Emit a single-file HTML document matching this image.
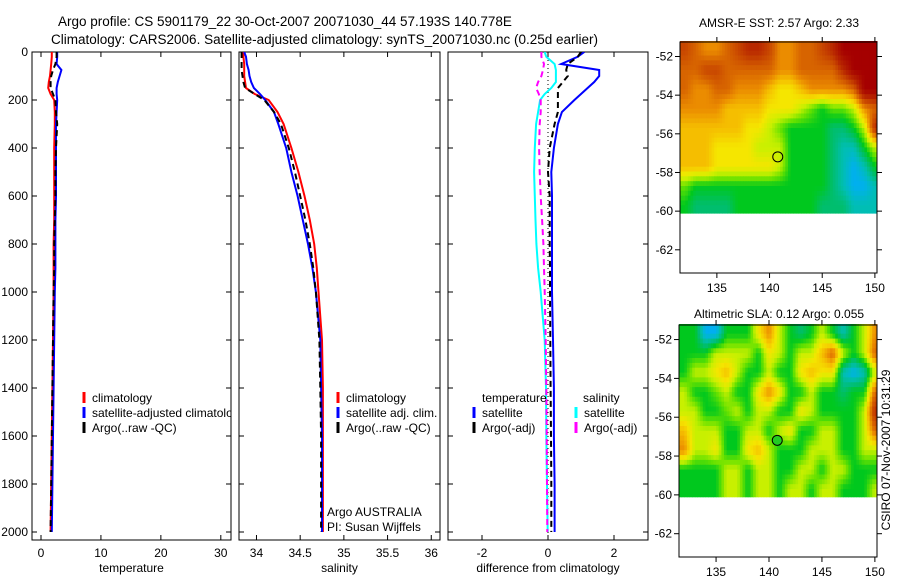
<!DOCTYPE html>
<html><head><meta charset="utf-8"><style>
body{margin:0;background:#fff}
svg{display:block;font-family:"Liberation Sans",sans-serif}
text{font-size:12px;fill:#000}
</style></head><body>
<svg id="fig" width="900" height="580" viewBox="0 0 900 580">
<text x="58" y="26" style="font-size:13.5px">Argo profile: CS 5901179_22 30-Oct-2007 20071030_44 57.193S 140.778E</text>
<text x="51" y="44" style="font-size:13.5px">Climatology: CARS2006. Satellite-adjusted climatology: synTS_20071030.nc (0.25d earlier)</text>
<text x="779" y="27" text-anchor="middle">AMSR-E SST: 2.57 Argo: 2.33</text>
<text x="779" y="318" text-anchor="middle">Altimetric SLA: 0.12 Argo: 0.055</text>
<text transform="translate(890,450) rotate(-90)" text-anchor="middle">CSIRO 07-Nov-2007 10:31:29</text>
<g id="plots"></g>
</svg>
<script>
const depths=[0,20,50,75,100,125,150,175,200,250,300,400,500,600,700,800,900,1000,1200,1400,1600,1800,2000];
const tempClim=[1.8,1.8,1.7,1.6,1.5,1.3,1.2,1.6,2.2,2.3,2.3,2.2,2.2,2.2,2.2,2.1,2.1,2.1,2.0,1.9,1.8,1.7,1.6];
const tempSat=[2.7,2.7,2.6,3.4,3.1,2.8,2.6,2.6,2.7,2.6,2.5,2.5,2.5,2.5,2.4,2.4,2.4,2.3,2.2,2.1,2.0,1.9,1.8];
const tempArgo=[2.6,2.6,2.4,2.0,1.7,1.6,1.6,2.0,2.4,2.5,2.7,2.5,2.4,2.4,2.3,2.2,2.2,2.1,2.0,1.9,1.8,1.7,1.6];
const salClim=[33.85,33.85,33.86,33.86,33.86,33.87,33.88,33.98,34.14,34.24,34.31,34.40,34.48,34.55,34.61,34.66,34.69,34.71,34.75,34.76,34.76,34.76,34.76];
const salSat=[33.86,33.88,33.89,33.91,33.92,33.94,33.97,34.04,34.10,34.20,34.25,34.34,34.40,34.47,34.53,34.59,34.64,34.68,34.73,34.74,34.75,34.75,34.75];
const salArgo=[33.83,33.83,33.83,33.83,33.84,33.85,33.87,33.98,34.09,34.20,34.28,34.37,34.44,34.50,34.56,34.61,34.65,34.68,34.72,34.73,34.74,34.74,34.74];
const dTSat=[1.1,0.9,0.4,1.55,1.55,1.4,1.2,1.0,0.8,0.42,0.3,0.18,0.1,0.12,0.12,0.12,0.12,0.12,0.15,0.18,0.18,0.2,0.2];
const dTArgo=[1.0,0.9,0.6,0.55,0.6,0.45,0.3,0.3,0.3,0.3,0.2,0.05,0.0,0.05,0.05,0.05,0.06,0.06,0.07,0.08,0.09,0.1,0.1];
const dSSat=[-0.1,-0.05,0.2,0.24,0.24,0.24,0.1,-0.1,-0.24,-0.3,-0.36,-0.4,-0.42,-0.4,-0.38,-0.35,-0.3,-0.22,-0.1,-0.06,-0.05,-0.03,-0.01];
const dSArgo=[-0.2,-0.2,-0.12,-0.15,-0.2,-0.3,-0.36,-0.28,-0.22,-0.22,-0.25,-0.27,-0.25,-0.22,-0.18,-0.14,-0.12,-0.1,-0.07,-0.05,-0.04,-0.03,-0.02];
const depthTicks=[0,200,400,600,800,1000,1200,1400,1600,1800,2000];
const tempTicks=[0,10,20,30];
const salTicks=[34,34.5,35,35.5,36];
const diffTicks=[-2,0,2];
const lonTicks=[135,140,145,150];
const latTicks=[-52,-54,-56,-58,-60,-62];
const sstGrid=[
[8.5,8,7.5,7.5,8,8.5,9,9,8.5,7.5,7.5,8,8,8.5,9,10,10,10,10],
[8,8,8.5,8.5,8,8,8,8,8,7.5,7.5,8,8,8,8,9,10,10,10],
[8,7.5,7.5,8,8,7.5,7.5,7.5,7,6.5,6.5,7,7.5,7.5,7.5,7.5,8,10,10],
[7.5,7.5,7.5,7.5,7,7,7,7,6.5,6.5,6.5,6,5.5,5,5.5,5.5,6,7.5,8],
[7,7,7,7,7,7,6.5,6.5,6,5.5,5,5,5,5,4.5,4.5,5,6,9],
[7,7,7,6.5,6.5,6.5,6.5,6,6,6,5,5,5,5,4.5,4,4,5,6],
[7,7,7,6.5,6.5,6.5,6.5,6.5,6.5,6,5,5,5,5,4.5,4,3.5,4,5],
[5.5,5,5,5,5,5,5,5,5,5,5,5,5,5,4.5,4,3.5,3.5,4],
[5,4.5,4.5,4.5,4.5,5,5,5,5,5,5,5,5,4.5,4.5,4.5,4,4,4]];
const slaGrid=[
[5,5,3.5,3.5,5,5,5,6.5,7.5,6,5,4.5,5,6,5,4,5,6,7.5],
[5,5,5,6,6,6,6,5,6.5,6,5,6,6,7,8,6,5,6,8],
[5,6,6,6.5,7,6,5,5,6,5,5,6.5,7,6.5,6.5,4,3.5,4,6],
[6,5,5,5.5,6,5,5,6.5,7.5,6.5,5,5,6,5,5,4.5,5,5,8],
[6,6,5,5,5.5,6,5,6,6,5,5,6.5,6,5,5,5,5,6,9],
[7,6,6,6,5,5,6,6,5,6,6.5,5,5,6,6,5,5,6,8],
[7.5,6,6,6.5,5,5,6.5,7,6,5,5,5,6,6,6,5,5,6,6],
[5,5,5,5,6,6,5,6,6,5,5,6,6,5,6,6,5,5,5],
[5,5,5,5,6,6,5,6,6,5,6,6,5,6,6,5,5,5,6]];

const NS='http://www.w3.org/2000/svg';
const root=document.getElementById('plots');
function mk(tag,attrs,parent){const e=document.createElementNS(NS,tag);for(const k in attrs)e.setAttribute(k,attrs[k]);(parent||root).appendChild(e);return e;}
const top0=52,bot=540;
const yDepth=d=>top0+d*0.24;

function panel(name,x0,x1,xmin,xmax,xticks,xlabel,showY){
  const g=mk('g',{});
  
  
  const sx=v=>x0+(v-xmin)/(xmax-xmin)*(x1-x0);
  const cid='clip-'+name;
  const cp=mk('clipPath',{id:cid},g);mk('rect',{x:x0,y:top0,width:x1-x0,height:bot-top0},cp);
  const frame=mk('rect',{x:x0,y:top0,width:x1-x0,height:bot-top0,fill:'none',stroke:'#000','stroke-width':1},g);
  
  
  xticks.forEach(t=>{const X=sx(t);
    mk('line',{x1:X,x2:X,y1:bot,y2:bot-5,stroke:'#000'},g);
    mk('line',{x1:X,x2:X,y1:top0,y2:top0+5,stroke:'#000'},g);
    const tl=mk('text',{x:X,y:bot+17,'text-anchor':'middle'},g);tl.textContent=t;
    
    
  });
  depthTicks.forEach(d=>{const Y=yDepth(d);
    mk('line',{x1:x0,x2:x0+5,y1:Y,y2:Y,stroke:'#000'},g);
    mk('line',{x1:x1,x2:x1-5,y1:Y,y2:Y,stroke:'#000'},g);
    if(showY){const tl=mk('text',{x:x0-4,y:Y+4,'text-anchor':'end'},g);tl.textContent=d;
      
      }
  });
  const xl=mk('text',{x:(x0+x1)/2,y:bot+32,'text-anchor':'middle'},g);xl.textContent=xlabel;
  
  
  const inner=mk('g',{'clip-path':'url(#'+cid+')'},g);
  return {g,inner,sx};
}
function line(p,vals,color,dash,w,nm){
  const pts=vals.map((v,i)=>p.sx(v).toFixed(1)+','+yDepth(depths[i]).toFixed(1)).join(' ');
  const pl=mk('polyline',{points:pts,fill:'none',stroke:color,'stroke-width':w||2,'stroke-dasharray':dash||'none'},p.inner);
  
  
}
function legend(p,x,y,color,label,nm){
  mk('line',{x1:x,x2:x,y1:y-10,y2:y+1,stroke:color,'stroke-width':3},p.inner);
  const t=mk('text',{x:x+8,y:y},p.inner);t.textContent=label;
  
  
}
const p1=panel('temperature-panel',32,231,-1.5,31.7,tempTicks,'temperature',true);
line(p1,tempClim,'#f00',null,2,'temp-climatology-line');
line(p1,tempSat,'#00f',null,2,'temp-satellite-line');
line(p1,tempArgo,'#000','6,4',2,'temp-argo-line');
legend(p1,84,402,'#f00','climatology','legend-climatology');
legend(p1,84,417,'#00f','satellite-adjusted climatology','legend-satellite');
legend(p1,84,432,'#000','Argo(..raw -QC)','legend-argo');
const p2=panel('salinity-panel',239,440,33.8,36.1,salTicks,'salinity',false);
line(p2,salClim,'#f00',null,2,'sal-climatology-line');
line(p2,salSat,'#00f',null,2,'sal-satellite-line');
line(p2,salArgo,'#000','6,4',2,'sal-argo-line');
legend(p2,338,402,'#f00','climatology','legend-climatology');
legend(p2,338,417,'#00f','satellite adj. clim.','legend-satellite');
legend(p2,338,432,'#000','Argo(..raw -QC)','legend-argo');
[['Argo AUSTRALIA',516],['PI: Susan Wijffels',531]].forEach(a=>{const t=mk('text',{x:327,y:a[1]},p2.inner);t.textContent=a[0];
  
  });
const p3=panel('difference-panel',448,648,-3.03,3.03,diffTicks,'difference from climatology',false);
mk('line',{x1:p3.sx(0),x2:p3.sx(0),y1:top0,y2:bot,stroke:'#000','stroke-dasharray':'1,3'},p3.inner);
line(p3,dSSat,'#0ff',null,2,'diff-sal-satellite-line');
line(p3,dSArgo,'#f0f','6,4',2,'diff-sal-argo-line');
line(p3,dTSat,'#00f',null,2,'diff-temp-satellite-line');
line(p3,dTArgo,'#000','6,4',2,'diff-temp-argo-line');
{const t=mk('text',{x:482,y:402},p3.inner);t.textContent='temperature';}
{const t=mk('text',{x:583,y:402},p3.inner);t.textContent='salinity';}
legend(p3,474,417,'#00f','satellite','legend-temp-satellite');
legend(p3,474,432,'#000','Argo(-adj)','legend-temp-argo');
legend(p3,576,417,'#0ff','satellite','legend-sal-satellite');
legend(p3,576,432,'#f0f','Argo(-adj)','legend-sal-argo');

const palStops=[[3,[0,160,255]],[3.5,[0,175,240]],[4,[0,190,180]],[4.5,[0,190,110]],[5,[0,200,30]],[5.5,[100,225,0]],[6,[200,240,0]],[6.5,[245,230,0]],[7,[245,190,0]],[7.5,[235,140,0]],[8,[215,100,0]],[8.5,[200,70,0]],[9,[185,40,0]],[10,[165,0,0]]];
function cmap(v){
  if(v<=palStops[0][0])return `rgb(${palStops[0][1]})`;
  for(let i=1;i<palStops.length;i++){if(v<=palStops[i][0]){const a=palStops[i-1],b=palStops[i],t=(v-a[0])/(b[0]-a[0]);
    return 'rgb('+a[1].map((c,k)=>Math.round(c+(b[1][k]-c)*t)).join(',')+')';}}
  return 'rgb(165,0,0)';
}
function sample(grid,r,c){
  const R=grid.length,C=grid[0].length;
  r=Math.max(0,Math.min(R-1,r));c=Math.max(0,Math.min(C-1,c));
  const r0=Math.floor(r),c0=Math.floor(c),r1=Math.min(R-1,r0+1),c1=Math.min(C-1,c0+1),fr=r-r0,fc=c-c0;
  return grid[r0][c0]*(1-fr)*(1-fc)+grid[r0][c1]*(1-fr)*fc+grid[r1][c0]*fr*(1-fc)+grid[r1][c1]*fr*fc;
}
function map(name,fx0,fx1,fy0,fy1,latTop,latBot,grid,filled){
  const g=mk('g',{});
  
  
  const lonMin=131.5,lonMax=150.2;
  const sx=l=>fx0+(l-lonMin)/(lonMax-lonMin)*(fx1-fx0);
  const sy=la=>fy0+(latTop-la)/(latTop-latBot)*(fy1-fy0);
  const sub=4,R=grid.length,C=grid[0].length;
  for(let i=0;i<R*sub;i++)for(let j=0;j<C*sub;j++){
    const v=sample(grid,(i+0.5)/sub-0.5,(j+0.5)/sub-0.5);
    const lon=131.5+j/sub, lat=-51.2-i/sub;
    const x0=sx(lon),x1=Math.min(sx(lon+1/sub),fx1),y0=sy(lat),y1=Math.min(sy(lat-1/sub),sy(-60.1));
    if(x1<=x0||y1<=y0)continue;
    const c=mk('rect',{x:x0.toFixed(1),y:y0.toFixed(1),width:(x1-x0+0.5).toFixed(1),height:(y1-y0+0.5).toFixed(1),fill:cmap(v)},g);
    
    
  }
  mk('rect',{x:fx0,y:fy0,width:fx1-fx0,height:fy1-fy0,fill:'none',stroke:'#000'},g);
  latTicks.forEach(la=>{const Y=sy(la);
    mk('line',{x1:fx0-5,x2:fx0,y1:Y,y2:Y,stroke:'#000'},g);
    mk('line',{x1:fx1,x2:fx1+5,y1:Y,y2:Y,stroke:'#000'},g);
    const t=mk('text',{x:fx0-7,y:Y+4,'text-anchor':'end'},g);t.textContent=la;
    
    });
  lonTicks.forEach(lo=>{const X=sx(lo);
    mk('line',{x1:X,x2:X,y1:fy1,y2:fy1+5,stroke:'#000'},g);
    mk('line',{x1:X,x2:X,y1:fy0-5,y2:fy0,stroke:'#000'},g);
    const t=mk('text',{x:X,y:fy1+19,'text-anchor':'middle'},g);t.textContent=lo;
    
    });
  const c=mk('circle',{cx:sx(140.78),cy:sy(-57.19),r:5,fill:filled?'#2c2':'none',stroke:'#000'},g);
  
  
}
map('sst-map',680,877,42,273,-51.25,-63.2,sstGrid,false);
map('sla-map',679,877,325,557,-51.25,-63.2,slaGrid,true);
</script>
</body></html>
